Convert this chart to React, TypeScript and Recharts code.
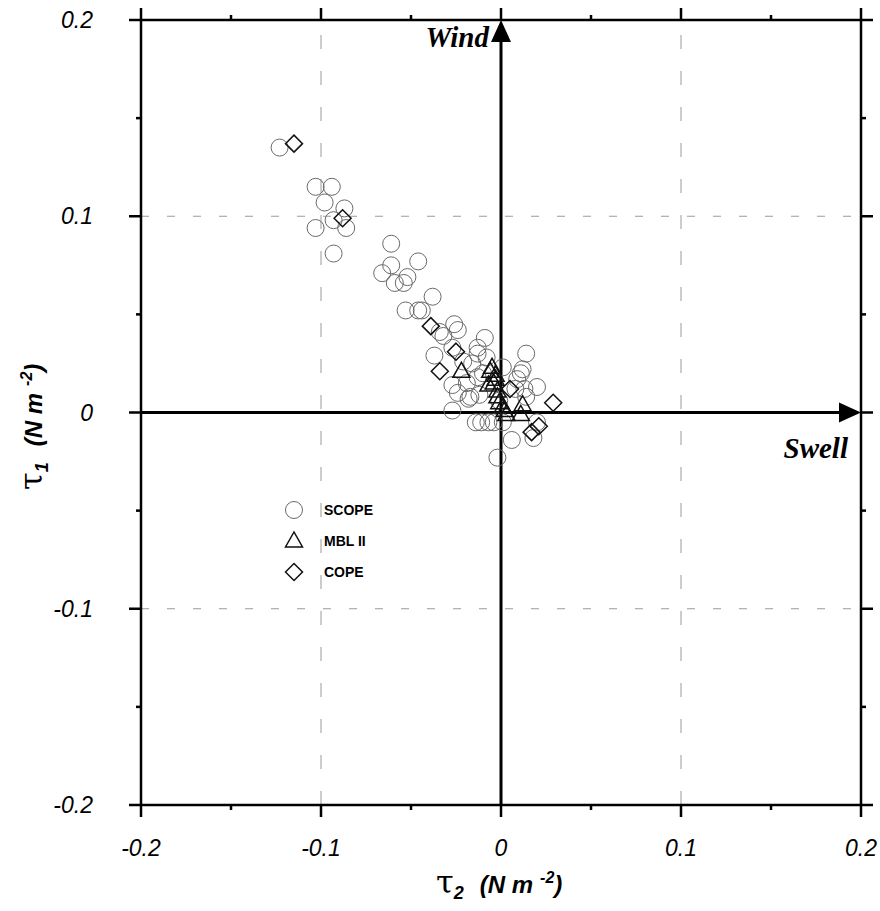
/*
 * Wind / swell stress scatter
 * tau2 vs tau1 for SCOPE, MBL II and COPE
 */

import { ScatterChart, Scatter, XAxis, YAxis, ReferenceLine, Legend } from 'recharts';

// SCOPE (circles)
const scopeTau2 = [
  -0.123, -0.103, -0.094, -0.098, -0.087, -0.093, -0.086, -0.103, -0.093, -0.061,
  -0.061, -0.046, -0.066, -0.059, -0.054, -0.052, -0.038, -0.053, -0.046, -0.044,
  -0.034, -0.032, -0.026, -0.024, -0.037, -0.027, -0.013, -0.013, -0.021, -0.016,
  -0.008, -0.009, 0.014, -0.027, -0.019, -0.013, -0.01, -0.017, -0.012, -0.024,
  -0.018, -0.027, -0.014, -0.011, -0.007, -0.004, 0.001, 0.006, -0.002, 0.018,
  0.012, 0.001, 0.011, 0.009, 0.02, 0.008, 0.013, 0.014, 0.02, -0.001,
];
const scopeTau1 = [
  0.135, 0.115, 0.115, 0.107, 0.104, 0.098, 0.094, 0.094, 0.081, 0.086,
  0.075, 0.077, 0.071, 0.066, 0.066, 0.069, 0.059, 0.052, 0.052, 0.052,
  0.041, 0.039, 0.045, 0.042, 0.029, 0.033, 0.033, 0.03, 0.026, 0.025,
  0.028, 0.038, 0.03, 0.014, 0.015, 0.018, 0.02, 0.008, 0.009, 0.01,
  0.007, 0.001, -0.005, -0.005, -0.005, -0.005, -0.005, -0.014, -0.023, -0.013,
  0.022, 0.023, 0.02, 0.017, 0.013, 0.012, 0.012, 0.008, -0.005, 0.006,
];

// MBL II (triangles)
const mblTau2 = [
  -0.022, -0.006, -0.005, -0.003, -0.004, -0.002, -0.002, -0.001, 0.001, 0.002,
  0.003, 0.012, 0.011, -0.007, -0.003,
];
const mblTau1 = [
  0.021, 0.021, 0.023, 0.019, 0.015, 0.011, 0.008, 0.005, 0.003, 0.001,
  -0.001, 0.004, -0.001, 0.014, 0.017,
];

// COPE (diamonds)
const copeTau2 = [-0.115, -0.088, -0.039, -0.025, -0.034, 0.005, 0.029, 0.021, 0.017];
const copeTau1 = [0.137, 0.099, 0.044, 0.031, 0.021, 0.012, 0.005, -0.007, -0.01];

const axisTicks = [-0.2, -0.15, -0.1, -0.05, 0, 0.05, 0.1, 0.15, 0.2];
const tickLabels = ['-0.2', '', '-0.1', '', '0', '', '0.1', '', '0.2'];
const gridValues = [-0.1, 0.1];

const toPoints = (t2: number[], t1: number[]) => t2.map((v, i) => ({ tau2: v, tau1: t1[i] }));
const scopeData = toPoints(scopeTau2, scopeTau1);
const mblData = toPoints(mblTau2, mblTau1);
const copeData = toPoints(copeTau2, copeTau1);

const labelFont = '"Liberation Sans", Arial, sans-serif';
const serifFont = '"Liberation Serif", "Times New Roman", serif';

function FrameTick(props: any) {
  const { x, y, payload, side } = props;
  const idx = axisTicks.findIndex((t) => Math.abs(t - payload.value) < 1e-9);
  const label = tickLabels[idx] ?? '';
  const len = label !== '' ? 12 : 5;
  let line;
  if (side === 'bottom') line = <line x1={x} y1={y} x2={x} y2={y + len} />;
  else if (side === 'top') line = <line x1={x} y1={y} x2={x} y2={y - len} />;
  else if (side === 'left') line = <line x1={x} y1={y} x2={x - len} y2={y} />;
  else line = <line x1={x} y1={y} x2={x + len} y2={y} />;
  return (
    <g stroke="#000" strokeWidth={2.5}>
      {line}
      {side === 'bottom' && label && (
        <text x={x} y={y + 43} dy="0.35em" textAnchor="middle" stroke="none" fill="#000"
          fontFamily={labelFont} fontStyle="italic" fontSize={23}>{label}</text>
      )}
      {side === 'left' && label && (
        <text x={x - 48} y={y} dy="0.35em" textAnchor="end" stroke="none" fill="#000"
          fontFamily={labelFont} fontStyle="italic" fontSize={23}>{label}</text>
      )}
    </g>
  );
}

const circleShape = (p: any) => (
  <circle cx={p.cx} cy={p.cy} r={8.5} fill="none" stroke="#6a6a6a" strokeWidth={1} />
);
const triangleShape = (p: any) => (
  <polygon
    points={`${p.cx},${p.cy - 9} ${p.cx - 8.5},${p.cy + 6} ${p.cx + 8.5},${p.cy + 6}`}
    fill="none" stroke="#111" strokeWidth={1.5}
  />
);
const diamondShape = (p: any) => (
  <polygon
    points={`${p.cx},${p.cy - 8.5} ${p.cx + 8.5},${p.cy} ${p.cx},${p.cy + 8.5} ${p.cx - 8.5},${p.cy}`}
    fill="none" stroke="#111" strokeWidth={1.5}
  />
);
const noShape = () => <g />;

function WindArrow(props: any) {
  const { x1, y1, y2 } = props;
  const top = Math.min(y1, y2);
  const bottom = Math.max(y1, y2);
  return (
    <g>
      <line x1={x1} y1={bottom} x2={x1} y2={top + 18} stroke="#000" strokeWidth={3} />
      <polygon points={`${x1},${top} ${x1 - 10},${top + 22} ${x1 + 10},${top + 22}`} fill="#000" />
      <text x={x1 - 12} y={top + 27} textAnchor="end" fontFamily={serifFont}
        fontWeight="bold" fontStyle="italic" fontSize={29}>Wind</text>
    </g>
  );
}

function SwellArrow(props: any) {
  const { x1, x2, y1 } = props;
  const left = Math.min(x1, x2);
  const right = Math.max(x1, x2);
  return (
    <g>
      <line x1={left} y1={y1} x2={right - 18} y2={y1} stroke="#000" strokeWidth={3} />
      <polygon points={`${right},${y1} ${right - 22},${y1 - 10} ${right - 22},${y1 + 10}`} fill="#000" />
      <text x={right - 13} y={y1 + 45} textAnchor="end" fontFamily={serifFont}
        fontWeight="bold" fontStyle="italic" fontSize={29}>Swell</text>
    </g>
  );
}

function LegendBox() {
  const rows = [
    { name: 'SCOPE', icon: <circle cx={14} cy={13} r={8.5} fill="none" stroke="#6a6a6a" strokeWidth={1} /> },
    { name: 'MBL II', icon: <polygon points="14,4 5.5,19 22.5,19" fill="none" stroke="#111" strokeWidth={1.5} /> },
    { name: 'COPE', icon: <polygon points="14,4.5 22.5,13 14,21.5 5.5,13" fill="none" stroke="#111" strokeWidth={1.5} /> },
  ];
  return (
    <div>
      {rows.map((r) => (
        <div key={r.name} style={{ display: 'flex', alignItems: 'center', height: 31 }}>
          <svg width={28} height={26}>{r.icon}</svg>
          <span style={{ marginLeft: 16, fontFamily: labelFont, fontWeight: 'bold', fontSize: 14 }}>
            {r.name}
          </span>
        </div>
      ))}
    </div>
  );
}

function TitleSpans({ sub }: { sub: string }) {
  const f = { fontFamily: labelFont, fontWeight: 'bold' as const, fontStyle: 'italic' as const };
  return (
    <>
      <tspan fontFamily='"DejaVu Serif", serif' fontSize={32}>τ</tspan>
      <tspan {...f} fontSize={18} dy={6}>{sub}</tspan>
      <tspan {...f} fontSize={24} dx={16} dy={-6}>(N m</tspan>
      <tspan {...f} fontSize={16} dx={7} dy={-10}>-2</tspan>
      <tspan {...f} fontSize={24} dy={10}>)</tspan>
    </>
  );
}

function XTitle(props: any) {
  const { viewBox } = props;
  const cx = viewBox.x + viewBox.width / 2;
  return (
    <text x={cx - 65} y={893} fill="#000">
      <TitleSpans sub="2" />
    </text>
  );
}

function YTitle() {
  const x = 42;
  const y = 490;
  return (
    <text x={x} y={y} fill="#000" transform={`rotate(-90, ${x}, ${y})`}>
      <TitleSpans sub="1" />
    </text>
  );
}

export default function App() {
  const frameAxis = {
    type: 'number' as const,
    domain: [-0.2, 0.2],
    ticks: axisTicks,
    interval: 0 as const,
    allowDataOverflow: true,
    tickSize: 0,
    tickMargin: 0,
    tickLine: false,
    axisLine: { stroke: '#000', strokeWidth: 2.5 },
  };

  return (
    <div style={{ position: 'absolute', left: 0, top: 0, width: 880, height: 911, background: '#fff' }}>
      <ScatterChart width={880} height={911} margin={{ top: 19, right: 18, left: 81, bottom: 76 }}>
        <XAxis {...frameAxis} dataKey="tau2" height={30} tick={<FrameTick side="bottom" />}
          label={{ content: <XTitle /> }} />
        <XAxis {...frameAxis} dataKey="tau2" xAxisId="top" orientation="top" height={1}
          tick={<FrameTick side="top" />} />
        <YAxis {...frameAxis} dataKey="tau1" width={60} tick={<FrameTick side="left" />}
          label={{ content: <YTitle /> }} />
        <YAxis {...frameAxis} dataKey="tau1" yAxisId="right" orientation="right" width={1}
          tick={<FrameTick side="right" />} />

        {gridValues.map((v) => (
          <ReferenceLine key={`gx${v}`} x={v} stroke="#9a9a9a" strokeWidth={1} strokeDasharray="14 22" />
        ))}
        {gridValues.map((v) => (
          <ReferenceLine key={`gy${v}`} y={v} stroke="#9a9a9a" strokeWidth={1} strokeDasharray="8 18" />
        ))}

        {/* hidden series so the top and right frame axes get drawn */}
        <Scatter data={copeData} xAxisId="top" yAxisId="right" shape={noShape}
          legendType="none" isAnimationActive={false} />

        <Scatter name="SCOPE" data={scopeData} shape={circleShape} isAnimationActive={false} />
        <Scatter name="MBL II" data={mblData} shape={triangleShape} isAnimationActive={false} />
        <Scatter name="COPE" data={copeData} shape={diamondShape} isAnimationActive={false} />

        <ReferenceLine x={0} shape={<WindArrow />} />
        <ReferenceLine y={0} shape={<SwellArrow />} />

        <Legend layout="vertical" align="center" verticalAlign="middle"
          wrapperStyle={{ left: 280, top: 494, width: 'auto' }} content={<LegendBox />} />
      </ScatterChart>
    </div>
  );
}
